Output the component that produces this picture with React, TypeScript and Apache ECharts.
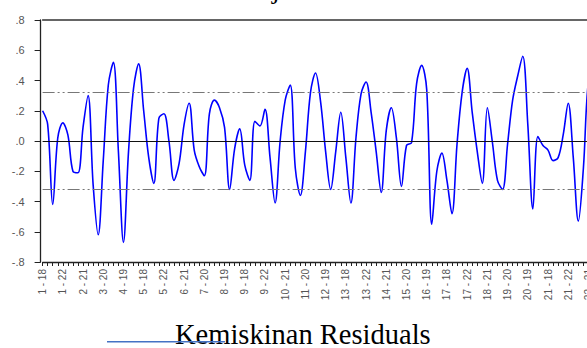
import React, { useEffect, useRef } from "react";
import * as echarts from "echarts";

// Cross-sections (provinces) and periods (years) used for the category labels
const provinces: number[] = Array.from({ length: 22 }, (_, k) => k + 1);
const periods: string[] = ["18", "19", "20", "21", "22"];
const categories: string[] = provinces.flatMap((p) => periods.map((y) => `${p} - ${y}`));

const residuals: number[] = [
  0.20, 0.11, -0.42, 0.02, 0.12, 0.04, -0.20, -0.21, 0.09, 0.30,
  -0.29, -0.62, -0.13, 0.37, 0.52, -0.07, -0.67, -0.07, 0.35, 0.51,
  0.20, -0.11, -0.28, 0.15, 0.18, 0.00, -0.26, -0.15, 0.11, 0.25,
  -0.06, -0.17, -0.23, 0.18, 0.27, 0.22, 0.09, -0.32, -0.05, 0.08,
  -0.16, -0.26, 0.13, 0.10, 0.21, -0.11, -0.41, 0.00, 0.27, 0.37,
  -0.18, -0.36, -0.07, 0.32, 0.45, 0.26, -0.07, -0.32, -0.07, 0.19,
  -0.11, -0.41, 0.02, 0.31, 0.39, 0.19, -0.07, -0.34, 0.07, 0.22,
  0.02, -0.30, -0.03, -0.01, 0.38, 0.50, 0.34, -0.55, -0.20, -0.08,
  -0.26, -0.48, -0.02, 0.32, 0.48, 0.19, -0.07, -0.28, 0.22, -0.01,
  -0.26, -0.32, -0.02, 0.27, 0.43, 0.56, 0.11, -0.45, 0.03, -0.03,
  -0.06, -0.13, -0.11, 0.04, 0.25, -0.11, -0.53, -0.18, 0.40, 0.45,
];

// Reference lines: zero and +/- one standard error band
const zeroLine = 0;
const seBand = 0.32;

const legendLabel = "Kemiskinan Residuals";

function fmtY(v: number): string {
  const s = Math.abs(v).toFixed(1).replace(/^0/, "");
  return v < -1e-9 ? "-" + s : s;
}

export default function App() {
  const ref = useRef<HTMLDivElement>(null);
  useEffect(() => {
    if (!ref.current) return;
    const chart = echarts.init(ref.current, null, { renderer: "svg" });
    const axisFont = { fontFamily: "Liberation Sans, Arial, sans-serif", fontSize: 10, color: "#555" };
    chart.setOption({
      animation: false,
      grid: { left: 42.6, top: 20, width: 550.9, height: 242 },
      xAxis: [
        {
          type: "category",
          data: categories,
          boundaryGap: false,
          position: "bottom",
          axisLine: { show: true, onZero: false, lineStyle: { color: "#222", width: 1.3 } },
          axisTick: { show: true, interval: 0, length: 4, lineStyle: { color: "#222", width: 1 } },
          axisLabel: { ...axisFont, rotate: 90, interval: 3, margin: 7 },
          splitLine: { show: false },
        },
        {
          type: "category",
          data: categories,
          boundaryGap: false,
          position: "top",
          axisLine: { show: true, onZero: false, lineStyle: { color: "#333", width: 1.5 } },
          axisTick: { show: false },
          axisLabel: { show: false },
        },
      ],
      yAxis: {
        type: "value",
        min: -0.8,
        max: 0.8,
        interval: 0.2,
        offset: 2,
        axisLine: { show: true, lineStyle: { color: "#222", width: 1.3 } },
        axisTick: { show: true, length: 6, lineStyle: { color: "#222" } },
        axisLabel: { ...axisFont, fontSize: 11, margin: 16, formatter: (v: number) => fmtY(v) },
        splitLine: { show: false },
      },
      series: [
        {
          type: "line",
          data: residuals,
          smooth: 0.35,
          symbol: "none",
          lineStyle: { color: "#0000ff", width: 1.6 },
          markLine: {
            silent: true,
            symbol: ["none", "none"],
            label: { show: false },
            data: [
              { yAxis: zeroLine, lineStyle: { color: "#111", type: "solid", width: 1.2 } },
              { yAxis: seBand, lineStyle: { color: "#777", type: [12, 3, 2, 3, 2, 3], width: 1.2 } },
              { yAxis: -seBand, lineStyle: { color: "#777", type: [12, 3, 2, 3, 2, 3], width: 1.2 } },
            ],
          },
        },
      ],
      graphic: [
        {
          type: "text",
          x: 272,
          y: -12,
          style: {
            text: "j",
            fontFamily: "Liberation Serif, Times New Roman, serif",
            fontSize: 28,
            fill: "#000",
            align: "left",
            verticalAlign: "middle",
          },
        },
        {
          type: "text",
          x: 175,
          y: 334,
          style: {
            text: legendLabel,
            fontFamily: "Liberation Serif, Times New Roman, serif",
            fontSize: 28.5,
            fill: "#000",
            align: "left",
            verticalAlign: "middle",
          },
        },
        {
          type: "line",
          shape: { x1: 107, y1: 341.7, x2: 225, y2: 341.7 },
          style: { stroke: "#4472C4", lineWidth: 1.6 },
          z: 10,
        },
      ],
    });
    return () => chart.dispose();
  }, []);
  return (
    <div style={{ position: "fixed", left: 0, top: 0, width: 587, height: 348, overflow: "hidden", background: "#fff" }}>
      <div ref={ref} style={{ width: 620, height: 348 }} />
    </div>
  );
}
